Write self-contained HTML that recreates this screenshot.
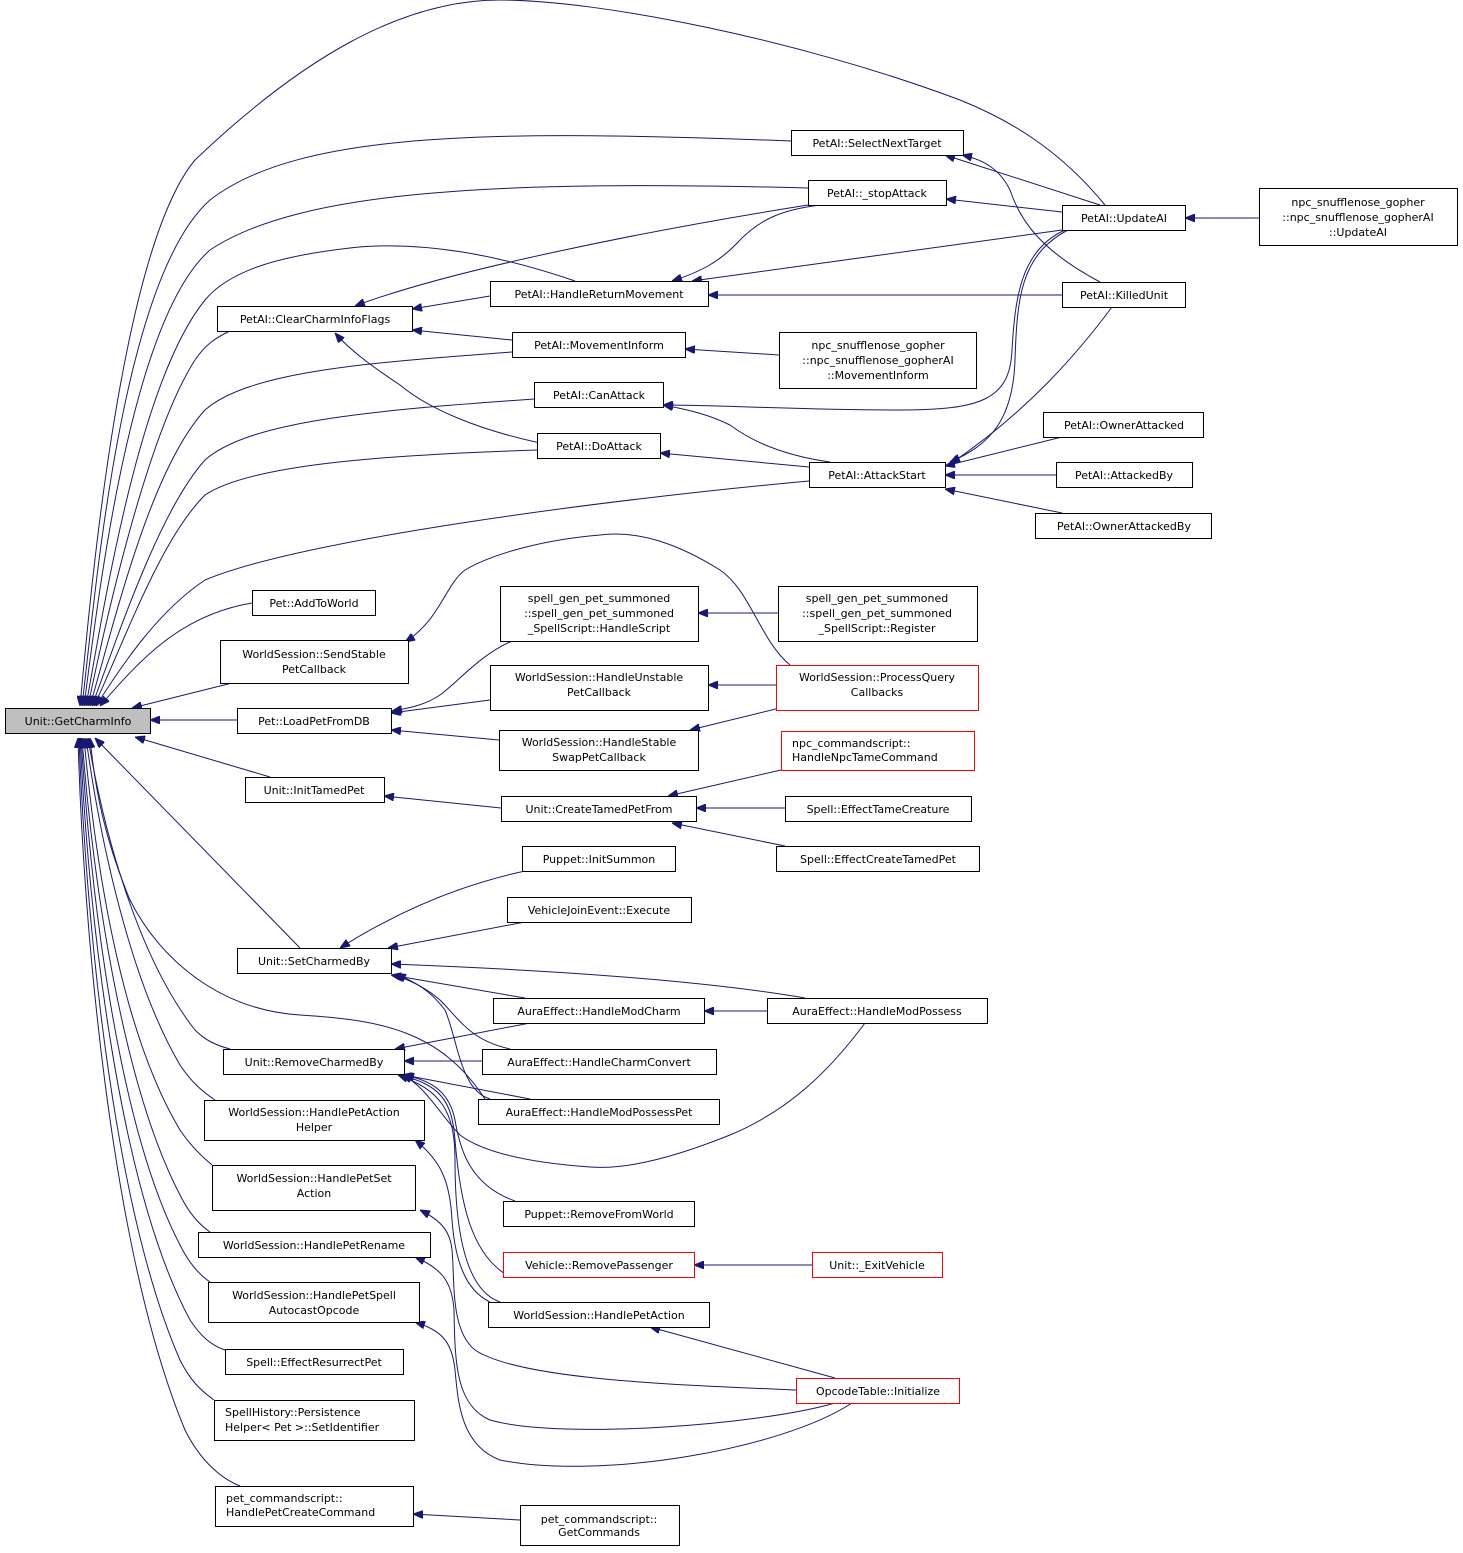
<!DOCTYPE html>
<html><head><meta charset="utf-8"><style>
html,body{margin:0;padding:0;background:#fff}
svg{display:block}
text{font-family:"DejaVu Sans","Liberation Sans",sans-serif;font-size:11px;fill:#000}
.n{fill:#fff;stroke:#000;stroke-width:1}
.r{fill:#fff;stroke:#ff0000;stroke-width:1}
.e{fill:none;stroke:#191970;stroke-width:1}
</style></head><body>
<svg width="1463" height="1553" viewBox="0 0 1463 1553" xmlns="http://www.w3.org/2000/svg">
<defs><marker id="a" viewBox="0 0 10 8" refX="10" refY="4" markerWidth="10" markerHeight="8" markerUnits="userSpaceOnUse" orient="auto"><path d="M0,0 L10,4 L0,8 z" fill="#191970" stroke="#191970"/></marker></defs>
<g class="edges">
<!-- to GetCharmInfo -->
<path class="e" marker-end="url(#a)" d="M1105,205 C1060,150 1010,120 960,100 C800,40 600,0 500,0 C400,0 300,60 195,160 C120,250 90,600 80,706"/>
<path class="e" marker-end="url(#a)" d="M791,141 C500,130 300,130 210,200 C120,280 95,600 82,706"/>
<path class="e" marker-end="url(#a)" d="M808,188 C500,180 300,190 210,250 C130,320 98,600 84,706"/>
<path class="e" marker-end="url(#a)" d="M575,281 C500,255 420,240 350,248 C280,256 230,270 205,300 C140,380 105,600 86,706"/>
<path class="e" marker-end="url(#a)" d="M230,331 C215,338 205,345 195,360 C150,430 110,600 88,706"/>
<path class="e" marker-end="url(#a)" d="M512,352 C380,362 250,370 205,410 C150,470 115,620 90,706"/>
<path class="e" marker-end="url(#a)" d="M534,399 C380,410 250,420 205,460 C160,510 120,630 92,706"/>
<path class="e" marker-end="url(#a)" d="M537,450 C380,455 250,465 205,495 C160,540 125,640 94,706"/>
<path class="e" marker-end="url(#a)" d="M809,481 C600,500 300,540 205,580 C160,610 125,660 96,706"/>
<path class="e" marker-end="url(#a)" d="M252,603 C180,615 140,660 100,706"/>
<path class="e" marker-end="url(#a)" d="M232,683 L132,708"/>
<path class="e" marker-end="url(#a)" d="M237,720 L150,720"/>
<path class="e" marker-end="url(#a)" d="M270,777 L135,737"/>
<path class="e" marker-end="url(#a)" d="M300,948 L95,738"/>
<path class="e" marker-end="url(#a)" d="M485,1099 C440,1030 380,1020 300,1015 C220,1010 160,960 130,900 C105,840 95,790 90,738"/>
<path class="e" marker-end="url(#a)" d="M230,1049 C215,1045 205,1040 195,1030 C140,960 105,840 88,738"/>
<path class="e" marker-end="url(#a)" d="M215,1100 C200,1090 190,1080 180,1065 C130,980 100,840 86,738"/>
<path class="e" marker-end="url(#a)" d="M212,1165 C200,1155 190,1145 180,1130 C120,1030 95,860 84,738"/>
<path class="e" marker-end="url(#a)" d="M210,1232 C200,1225 190,1215 180,1195 C120,1080 92,870 82,738"/>
<path class="e" marker-end="url(#a)" d="M210,1282 C200,1275 190,1265 180,1245 C115,1120 90,880 81,738"/>
<path class="e" marker-end="url(#a)" d="M225,1350 C210,1345 200,1335 190,1320 C115,1180 88,900 80,738"/>
<path class="e" marker-end="url(#a)" d="M214,1400 C200,1390 190,1380 180,1360 C110,1200 85,900 79,738"/>
<path class="e" marker-end="url(#a)" d="M240,1486 C220,1478 200,1460 185,1430 C110,1250 83,920 78,738"/>
<!-- PetAI cluster -->
<path class="e" marker-end="url(#a)" d="M1100,205 L945,155"/>
<path class="e" marker-end="url(#a)" d="M1100,282 C1040,250 1020,220 1010,190 C1000,170 985,160 962,155"/>
<path class="e" marker-end="url(#a)" d="M1062,212 L946,199"/>
<path class="e" marker-end="url(#a)" d="M820,205 C780,210 760,220 740,240 C720,262 700,272 672,281"/>
<path class="e" marker-end="url(#a)" d="M1062,230 L692,281"/>
<path class="e" marker-end="url(#a)" d="M1062,295 L708,295"/>
<path class="e" marker-end="url(#a)" d="M808,205 C650,230 450,270 355,306"/>
<path class="e" marker-end="url(#a)" d="M490,296 L412,309"/>
<path class="e" marker-end="url(#a)" d="M512,340 L412,330"/>
<path class="e" marker-end="url(#a)" d="M540,443 C480,430 430,410 400,385 C370,365 350,350 335,333"/>
<path class="e" marker-end="url(#a)" d="M779,355 L685,349"/>
<path class="e" marker-end="url(#a)" d="M1065,230 C1020,250 1015,300 1012,350 C1010,400 980,410 900,410 C800,410 720,405 663,405"/>
<path class="e" marker-end="url(#a)" d="M830,462 C780,455 750,440 730,425 C710,415 690,410 663,405"/>
<path class="e" marker-end="url(#a)" d="M809,467 L660,453"/>
<path class="e" marker-end="url(#a)" d="M1068,230 C1020,255 1017,300 1015,360 C1013,420 990,445 950,462"/>
<path class="e" marker-end="url(#a)" d="M1112,307 C1080,350 1030,410 950,464"/>
<path class="e" marker-end="url(#a)" d="M1062,437 L945,466"/>
<path class="e" marker-end="url(#a)" d="M1056,475 L945,475"/>
<path class="e" marker-end="url(#a)" d="M1062,513 L945,489"/>
<path class="e" marker-end="url(#a)" d="M1259,218 L1185,218"/>
<!-- mid -->
<path class="e" marker-end="url(#a)" d="M778,613 L698,613"/>
<path class="e" marker-end="url(#a)" d="M790,665 C760,640 750,590 720,570 C680,545 640,530 600,535 C540,540 490,555 465,570 C445,585 440,620 405,642"/>
<path class="e" marker-end="url(#a)" d="M512,641 C480,655 460,680 440,695 C425,705 410,708 392,711"/>
<path class="e" marker-end="url(#a)" d="M490,700 L391,713"/>
<path class="e" marker-end="url(#a)" d="M499,740 L391,730"/>
<path class="e" marker-end="url(#a)" d="M776,685 L708,685"/>
<path class="e" marker-end="url(#a)" d="M792,705 L690,730"/>
<path class="e" marker-end="url(#a)" d="M501,808 L384,796"/>
<path class="e" marker-end="url(#a)" d="M781,770 L668,796"/>
<path class="e" marker-end="url(#a)" d="M785,808 L696,808"/>
<path class="e" marker-end="url(#a)" d="M785,846 L672,823"/>
<!-- SetCharmedBy -->
<path class="e" marker-end="url(#a)" d="M525,871 C460,885 400,910 340,948"/>
<path class="e" marker-end="url(#a)" d="M525,922 L388,948"/>
<path class="e" marker-end="url(#a)" d="M805,998 C700,980 550,970 391,964"/>
<path class="e" marker-end="url(#a)" d="M525,998 L391,975"/>
<path class="e" marker-end="url(#a)" d="M510,1049 C470,1040 460,1020 440,1000 C425,987 410,980 394,975"/>
<path class="e" marker-end="url(#a)" d="M490,1099 C460,1090 458,1040 445,1010 C430,990 415,982 396,974"/>
<path class="e" marker-end="url(#a)" d="M767,1011 L704,1011"/>
<!-- RemoveCharmedBy -->
<path class="e" marker-end="url(#a)" d="M530,1023 L395,1049"/>
<path class="e" marker-end="url(#a)" d="M482,1061 L404,1061"/>
<path class="e" marker-end="url(#a)" d="M530,1099 L404,1075"/>
<path class="e" marker-end="url(#a)" d="M865,1023 C830,1070 790,1110 730,1135 C680,1155 630,1170 590,1167 C520,1162 480,1150 460,1135 C440,1115 425,1085 402,1075"/>
<path class="e" marker-end="url(#a)" d="M515,1201 C470,1185 460,1150 455,1120 C450,1095 435,1080 402,1075"/>
<path class="e" marker-end="url(#a)" d="M510,1277 C470,1255 460,1200 455,1140 C452,1100 440,1085 400,1075"/>
<path class="e" marker-end="url(#a)" d="M500,1302 C465,1290 455,1230 455,1160 C455,1110 440,1090 398,1075"/>
<!-- WorldSession handlers -->
<path class="e" marker-end="url(#a)" d="M490,1302 C465,1290 455,1260 452,1220 C450,1180 440,1160 415,1140"/>
<path class="e" marker-end="url(#a)" d="M796,1390 C680,1385 520,1380 475,1350 C450,1330 455,1280 452,1250 C450,1230 440,1220 420,1210"/>
<path class="e" marker-end="url(#a)" d="M835,1403 C760,1425 560,1440 490,1420 C455,1405 455,1360 454,1310 C452,1280 440,1268 415,1257"/>
<path class="e" marker-end="url(#a)" d="M852,1403 C780,1450 600,1480 500,1460 C460,1445 458,1400 455,1370 C452,1340 440,1330 415,1322"/>
<path class="e" marker-end="url(#a)" d="M835,1378 L650,1327"/>
<path class="e" marker-end="url(#a)" d="M812,1265 L694,1265"/>
<path class="e" marker-end="url(#a)" d="M520,1520 L413,1514"/>
</g>
<g class="nodes">
<rect x="5.5" y="708.5" width="145" height="25" fill="#bfbfbf" stroke="#000"/><text x="78" y="725" text-anchor="middle">Unit::GetCharmInfo</text>
<rect class="n" x="791.5" y="130.5" width="172" height="25"/><text x="877" y="147" text-anchor="middle">PetAI::SelectNextTarget</text>
<rect class="n" x="808.5" y="180.5" width="138" height="25"/><text x="877" y="197" text-anchor="middle">PetAI::_stopAttack</text>
<rect class="n" x="1062.5" y="205.5" width="123" height="25"/><text x="1124" y="222" text-anchor="middle">PetAI::UpdateAI</text>
<rect class="n" x="1259.5" y="188.5" width="198" height="57"/><text x="1358" y="206" text-anchor="middle">npc_snufflenose_gopher</text><text x="1358" y="221" text-anchor="middle">::npc_snufflenose_gopherAI</text><text x="1358" y="236" text-anchor="middle">::UpdateAI</text>
<rect class="n" x="217.5" y="306.5" width="195" height="25"/><text x="315" y="323" text-anchor="middle">PetAI::ClearCharmInfoFlags</text>
<rect class="n" x="490.5" y="281.5" width="218" height="25"/><text x="599" y="298" text-anchor="middle">PetAI::HandleReturnMovement</text>
<rect class="n" x="1062.5" y="282.5" width="123" height="25"/><text x="1124" y="299" text-anchor="middle">PetAI::KilledUnit</text>
<rect class="n" x="512.5" y="332.5" width="173" height="25"/><text x="599" y="349" text-anchor="middle">PetAI::MovementInform</text>
<rect class="n" x="779.5" y="332.5" width="197" height="56"/><text x="878" y="349" text-anchor="middle">npc_snufflenose_gopher</text><text x="878" y="364" text-anchor="middle">::npc_snufflenose_gopherAI</text><text x="878" y="379" text-anchor="middle">::MovementInform</text>
<rect class="n" x="534.5" y="382.5" width="129" height="25"/><text x="599" y="399" text-anchor="middle">PetAI::CanAttack</text>
<rect class="n" x="537.5" y="433.5" width="123" height="25"/><text x="599" y="450" text-anchor="middle">PetAI::DoAttack</text>
<rect class="n" x="809.5" y="462.5" width="136" height="25"/><text x="877" y="479" text-anchor="middle">PetAI::AttackStart</text>
<rect class="n" x="1043.5" y="412.5" width="160" height="25"/><text x="1124" y="429" text-anchor="middle">PetAI::OwnerAttacked</text>
<rect class="n" x="1056.5" y="462.5" width="136" height="25"/><text x="1124" y="479" text-anchor="middle">PetAI::AttackedBy</text>
<rect class="n" x="1035.5" y="513.5" width="176" height="25"/><text x="1124" y="530" text-anchor="middle">PetAI::OwnerAttackedBy</text>
<rect class="n" x="252.5" y="590.5" width="123" height="25"/><text x="314" y="607" text-anchor="middle">Pet::AddToWorld</text>
<rect class="n" x="220.5" y="640.5" width="188" height="43"/><text x="314" y="658" text-anchor="middle">WorldSession::SendStable</text><text x="314" y="673" text-anchor="middle">PetCallback</text>
<rect class="n" x="500.5" y="586.5" width="198" height="55"/><text x="599" y="602" text-anchor="middle">spell_gen_pet_summoned</text><text x="599" y="617" text-anchor="middle">::spell_gen_pet_summoned</text><text x="599" y="632" text-anchor="middle">_SpellScript::HandleScript</text>
<rect class="n" x="778.5" y="586.5" width="199" height="55"/><text x="877" y="602" text-anchor="middle">spell_gen_pet_summoned</text><text x="877" y="617" text-anchor="middle">::spell_gen_pet_summoned</text><text x="877" y="632" text-anchor="middle">_SpellScript::Register</text>
<rect class="n" x="490.5" y="665.5" width="218" height="45"/><text x="599" y="681" text-anchor="middle">WorldSession::HandleUnstable</text><text x="599" y="696" text-anchor="middle">PetCallback</text>
<rect class="r" x="776.5" y="665.5" width="202" height="45"/><text x="877" y="681" text-anchor="middle">WorldSession::ProcessQuery</text><text x="877" y="696" text-anchor="middle">Callbacks</text>
<rect class="n" x="237.5" y="708.5" width="154" height="25"/><text x="314" y="725" text-anchor="middle">Pet::LoadPetFromDB</text>
<rect class="n" x="499.5" y="730.5" width="199" height="40"/><text x="599" y="746" text-anchor="middle">WorldSession::HandleStable</text><text x="599" y="761" text-anchor="middle">SwapPetCallback</text>
<rect class="r" x="781.5" y="731.5" width="193" height="39"/><text x="792" y="747">npc_commandscript::</text><text x="792" y="761">HandleNpcTameCommand</text>
<rect class="n" x="245.5" y="777.5" width="139" height="25"/><text x="314" y="794" text-anchor="middle">Unit::InitTamedPet</text>
<rect class="n" x="501.5" y="796.5" width="195" height="25"/><text x="599" y="813" text-anchor="middle">Unit::CreateTamedPetFrom</text>
<rect class="n" x="785.5" y="796.5" width="186" height="25"/><text x="878" y="813" text-anchor="middle">Spell::EffectTameCreature</text>
<rect class="n" x="776.5" y="846.5" width="203" height="25"/><text x="878" y="863" text-anchor="middle">Spell::EffectCreateTamedPet</text>
<rect class="n" x="522.5" y="846.5" width="153" height="25"/><text x="599" y="863" text-anchor="middle">Puppet::InitSummon</text>
<rect class="n" x="507.5" y="897.5" width="184" height="25"/><text x="599" y="914" text-anchor="middle">VehicleJoinEvent::Execute</text>
<rect class="n" x="237.5" y="948.5" width="154" height="25"/><text x="314" y="965" text-anchor="middle">Unit::SetCharmedBy</text>
<rect class="n" x="493.5" y="998.5" width="211" height="25"/><text x="599" y="1015" text-anchor="middle">AuraEffect::HandleModCharm</text>
<rect class="n" x="767.5" y="998.5" width="220" height="25"/><text x="877" y="1015" text-anchor="middle">AuraEffect::HandleModPossess</text>
<rect class="n" x="223.5" y="1049.5" width="181" height="25"/><text x="314" y="1066" text-anchor="middle">Unit::RemoveCharmedBy</text>
<rect class="n" x="482.5" y="1049.5" width="234" height="25"/><text x="599" y="1066" text-anchor="middle">AuraEffect::HandleCharmConvert</text>
<rect class="n" x="478.5" y="1099.5" width="241" height="25"/><text x="599" y="1116" text-anchor="middle">AuraEffect::HandleModPossessPet</text>
<rect class="n" x="204.5" y="1100.5" width="220" height="40"/><text x="314" y="1116" text-anchor="middle">WorldSession::HandlePetAction</text><text x="314" y="1131" text-anchor="middle">Helper</text>
<rect class="n" x="212.5" y="1165.5" width="203" height="45"/><text x="314" y="1182" text-anchor="middle">WorldSession::HandlePetSet</text><text x="314" y="1197" text-anchor="middle">Action</text>
<rect class="n" x="503.5" y="1201.5" width="191" height="25"/><text x="599" y="1218" text-anchor="middle">Puppet::RemoveFromWorld</text>
<rect class="n" x="198.5" y="1232.5" width="232" height="25"/><text x="314" y="1249" text-anchor="middle">WorldSession::HandlePetRename</text>
<rect class="r" x="503.5" y="1252.5" width="191" height="25"/><text x="599" y="1269" text-anchor="middle">Vehicle::RemovePassenger</text>
<rect class="r" x="812.5" y="1252.5" width="130" height="25"/><text x="877" y="1269" text-anchor="middle">Unit::_ExitVehicle</text>
<rect class="n" x="208.5" y="1282.5" width="211" height="40"/><text x="314" y="1299" text-anchor="middle">WorldSession::HandlePetSpell</text><text x="314" y="1314" text-anchor="middle">AutocastOpcode</text>
<rect class="n" x="488.5" y="1302.5" width="221" height="25"/><text x="599" y="1319" text-anchor="middle">WorldSession::HandlePetAction</text>
<rect class="r" x="796.5" y="1378.5" width="163" height="25"/><text x="878" y="1395" text-anchor="middle">OpcodeTable::Initialize</text>
<rect class="n" x="225.5" y="1349.5" width="178" height="25"/><text x="314" y="1366" text-anchor="middle">Spell::EffectResurrectPet</text>
<rect class="n" x="214.5" y="1400.5" width="200" height="40"/><text x="225" y="1416">SpellHistory::Persistence</text><text x="225" y="1431">Helper&lt; Pet &gt;::SetIdentifier</text>
<rect class="n" x="215.5" y="1486.5" width="198" height="40"/><text x="226" y="1502">pet_commandscript::</text><text x="226" y="1516">HandlePetCreateCommand</text>
<rect class="n" x="520.5" y="1505.5" width="159" height="40"/><text x="599" y="1523" text-anchor="middle">pet_commandscript::</text><text x="599" y="1536" text-anchor="middle">GetCommands</text>
</g>
</svg>
</body></html>
